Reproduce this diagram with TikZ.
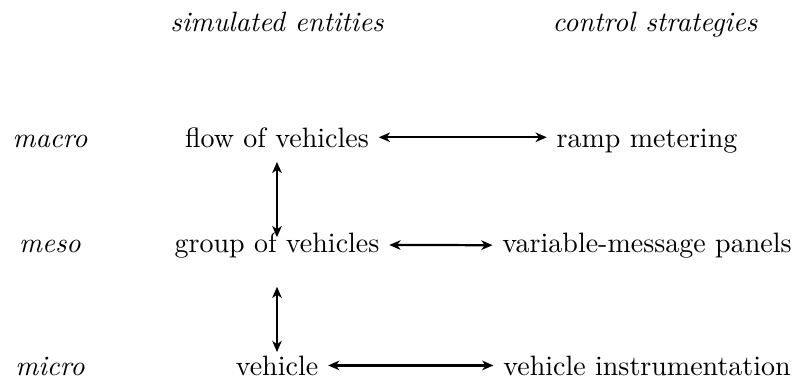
\documentclass[tikz,border=0pt]{standalone}
\usetikzlibrary{arrows.meta}
\tikzset{
	scalelabel/.style={font=\itshape, anchor=base},
	entity/.style={anchor=base},
	link/.style={{Stealth[length=4pt,width=3.4pt,inset=1.2pt]}-{Stealth[length=4pt,width=3.4pt,inset=1.2pt]}, thick},
}
\begin{document}
\begin{tikzpicture}[x=0.357pt,y=-0.357pt]
	\useasboundingbox (0,0) rectangle (806,378);
	
	%column headers
	\node[scalelabel] (simhead) at (277,32) {simulated entities};
	\node[scalelabel] (ctrlhead) at (655,32) {control strategies};
	
	%scale labels
	\node[scalelabel] (macro) at (50,147) {macro};
	\node[scalelabel] (meso)  at (50,252) {meso};
	\node[scalelabel] (micro) at (50,375) {micro};
	
	%simulated entities
	\node[entity] (flow)    at (277,147) {flow of vehicles};
	\node[entity] (group)   at (277,252) {group of vehicles};
	\node[entity] (vehicle) at (277,375) {vehicle};
	
	%control strategies
	\node[entity] (ramp)   at (647,147) {ramp metering};
	\node[entity] (panels) at (647,252) {variable-message panels};
	\node[entity] (instr)  at (647,375) {vehicle instrumentation};
	
	%arrows
	\draw[link] (flow.east) -- (flow.east -| ramp.west);
	\draw[link] (group.east) -- (panels.west);
	\draw[link] (vehicle.east) -- (instr.west);
	\draw[link, shorten <=5.3pt, shorten >=5.3pt] (flow.base) -- (group.base);
	\draw[link, shorten <=12.4pt, shorten >=8.2pt] (group.base) -- (vehicle.base);
	
	%\draw[help lines] (0,0) grid (806,378);
\end{tikzpicture}
\end{document}
